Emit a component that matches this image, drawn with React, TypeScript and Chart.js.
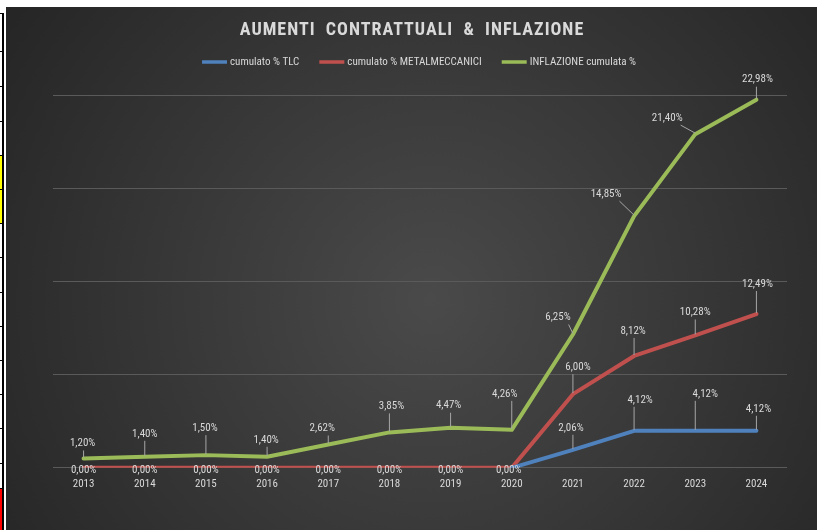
import React, { useEffect, useRef } from "react";
import { Chart, registerables } from "chart.js";

Chart.register(...registerables);

const FONT = "'Liberation Sans Narrow', 'Roboto Condensed', 'Liberation Sans', sans-serif";

const titleText = "AUMENTI  CONTRATTUALI  &  INFLAZIONE";

const years = ["2013", "2014", "2015", "2016", "2017", "2018", "2019", "2020", "2021", "2022", "2023", "2024"];

// plotted positions (in gridline units: 4 intervals of 10)
const tlcValues = [null, null, null, null, null, null, null, 0, 1.93, 3.97, 3.97, 3.97];
const metalValues = [0, 0, 0, 0, 0, 0, 0, 0, 7.9, 12.0, 14.2, 16.5];
const inflValues = [1.0, 1.18, 1.36, 1.18, 2.5, 3.8, 4.3, 4.07, 14.3, 27.0, 35.8, 39.5];

// data label texts as printed on the chart
const tlcLabels = ["", "", "", "", "", "", "", "", "2,06%", "4,12%", "4,12%", "4,12%"];
const metalLabels = ["0,00%", "0,00%", "0,00%", "0,00%", "0,00%", "0,00%", "0,00%", "0,00%", "6,00%", "8,12%", "10,28%", "12,49%"];
const inflLabels = ["1,20%", "1,40%", "1,50%", "1,40%", "2,62%", "3,85%", "4,47%", "4,26%", "6,25%", "14,85%", "21,40%", "22,98%"];

const seriesNames = ["cumulato % TLC", "cumulato % METALMECCANICI", "INFLAZIONE cumulata %"];
const seriesColors = ["#4f81bd", "#c0504d", "#9bbb59"];

// label placement (dx, dy from the point) — layout only
const tlcOffsets = [[0, 0], [0, 0], [0, 0], [0, 0], [0, 0], [0, 0], [0, 0], [0, 0], [-2, -22], [6, -31], [10, -37], [2, -22]];
const metalOffsets = [[0, 2], [0, 2], [0, 2], [0, 2], [0, 2], [0, 2], [0, 2], [-3, 2], [5, -27], [-1, -25], [0, -23], [1, -30]];
const inflOffsets = [[-1, -15], [0, -23], [-1, -27], [-1, -17], [-6, -16], [2, -26], [-2, -22], [-7, -36], [-15, -17], [-28, -22], [-28, -16], [1, -20]];

const labelSets = [tlcLabels, metalLabels, inflLabels];
const offsetSets = [tlcOffsets, metalOffsets, inflOffsets];

const TEXT = "#d9d9d9";

const bgPlugin = {
  id: "bgPlugin",
  beforeDraw(chart: any) {
    const { ctx, width, height } = chart;
    ctx.save();
    const g = ctx.createRadialGradient(424, 293, 0, 424, 293, 560);
    g.addColorStop(0, "#4a4a4a");
    g.addColorStop(1, "#222222");
    ctx.fillStyle = g;
    ctx.fillRect(0, 0, width, height);
    ctx.restore();
  },
};

const decorPlugin = {
  id: "decorPlugin",
  afterDraw(chart: any) {
    const { ctx } = chart;
    ctx.save();
    // title
    ctx.font = `bold 18px ${FONT}`;
    (ctx as any).letterSpacing = "1px";
    ctx.fillStyle = TEXT;
    ctx.textAlign = "center";
    ctx.textBaseline = "middle";
    ctx.fillText(titleText, 406, 23);
    (ctx as any).letterSpacing = "0px";
    // legend
    ctx.font = `11px ${FONT}`;
    const widths = seriesNames.map((n) => ctx.measureText(n).width);
    const lineLen = 25, gap = 3, itemGap = 20;
    let total = 0;
    widths.forEach((w) => (total += lineLen + gap + w));
    total += itemGap * (seriesNames.length - 1);
    let x = 413 - total / 2;
    const y = 55;
    ctx.textAlign = "left";
    seriesNames.forEach((n, i) => {
      ctx.strokeStyle = seriesColors[i];
      ctx.lineWidth = 3.5;
      ctx.beginPath();
      ctx.moveTo(x, y);
      ctx.lineTo(x + lineLen, y);
      ctx.stroke();
      x += lineLen + gap;
      ctx.fillStyle = TEXT;
      ctx.fillText(n, x, y);
      x += widths[i] + itemGap;
    });
    ctx.restore();
  },
};

const labelPlugin = {
  id: "labelPlugin",
  afterDatasetsDraw(chart: any) {
    const { ctx } = chart;
    ctx.save();
    ctx.font = `11px ${FONT}`;
    ctx.textAlign = "center";
    ctx.textBaseline = "middle";
    chart.data.datasets.forEach((ds: any, di: number) => {
      const meta = chart.getDatasetMeta(di);
      const labels = labelSets[di];
      const offs = offsetSets[di];
      meta.data.forEach((pt: any, i: number) => {
        const txt = labels[i];
        if (!txt || ds.data[i] === null) return;
        const px = pt.x, py = pt.y;
        const lx = px + offs[i][0];
        const ly = py + offs[i][1];
        const w = ctx.measureText(txt).width;
        const ax = Math.min(Math.max(px, lx - w / 2 + 2), lx + w / 2 - 2);
        const ay = ly + 7;
        const dist = Math.hypot(px - ax, py - ay);
        if (offs[i][1] < -8 && dist > 4) {
          ctx.strokeStyle = "#a6a6a6";
          ctx.lineWidth = 1;
          ctx.beginPath();
          ctx.moveTo(ax, ay);
          ctx.lineTo(px, py - 1);
          ctx.stroke();
        }
        ctx.fillStyle = TEXT;
        ctx.fillText(txt, lx, ly);
      });
    });
    ctx.restore();
  },
};

export default function App() {
  const ref = useRef<HTMLCanvasElement>(null);
  useEffect(() => {
    if (!ref.current) return;
    const mk = (i: number, data: any[]) => ({
      label: seriesNames[i],
      data,
      borderColor: seriesColors[i],
      backgroundColor: seriesColors[i],
      borderWidth: 4,
      pointRadius: 0,
      borderJoinStyle: "round" as const,
      borderCapStyle: "round" as const,
      tension: 0,
      spanGaps: false,
    });
    const chart = new Chart(ref.current, {
      type: "line",
      data: {
        labels: years,
        datasets: [mk(0, tlcValues), mk(1, metalValues), mk(2, inflValues)],
      },
      options: {
        animation: false,
        responsive: false,
        layout: { padding: { top: 88, left: 47, right: 30, bottom: 29 } },
        plugins: {
          legend: { display: false },
          title: { display: false },
          tooltip: { enabled: false },
        },
        scales: {
          x: {
            offset: true,
            grid: { display: false, drawTicks: false },
            border: { display: false },
            ticks: { color: TEXT, font: { family: FONT, size: 11 }, padding: 10 },
          },
          y: {
            min: 0,
            max: 40,
            ticks: { display: false, stepSize: 10 },
            grid: { color: "#5a5a5a", lineWidth: 1, drawTicks: false },
            border: { display: false },
          },
        },
      },
      plugins: [bgPlugin, labelPlugin, decorPlugin],
    });
    return () => chart.destroy();
  }, []);

  const hLines = [13, 51, 86, 121, 155, 189, 223, 257, 292, 326, 360, 394, 428, 463, 488];
  return (
    <div style={{ position: "fixed", left: 0, top: 0, width: 817, height: 530, background: "#ffffff", overflow: "hidden" }}>
      <div style={{ position: "absolute", left: 0, top: 155, width: 2, height: 68, background: "#ffff00" }} />
      <div style={{ position: "absolute", left: 0, top: 488, width: 2, height: 42, background: "#ff0000" }} />
      {hLines.map((y) => (
        <div key={y} style={{ position: "absolute", left: 0, top: y, width: 3, height: 1, background: "#000" }} />
      ))}
      <div style={{ position: "absolute", left: 2, top: 13, width: 1.5, height: 517, background: "#000" }} />
      <div style={{ position: "absolute", left: 6, top: 7 }}>
        <canvas ref={ref} width={811} height={523} style={{ display: "block", width: 811, height: 523 }} />
      </div>
    </div>
  );
}
